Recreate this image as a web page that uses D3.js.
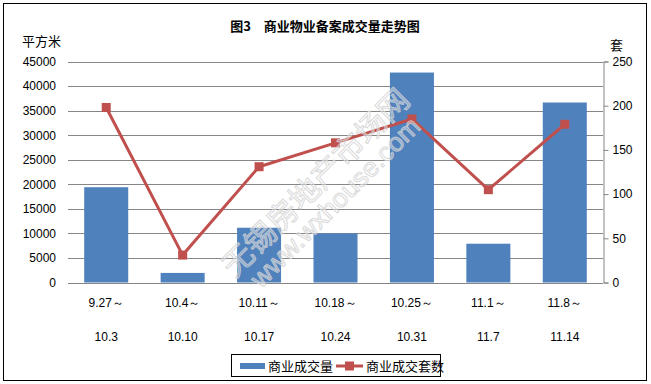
<!DOCTYPE html>
<html><head><meta charset="utf-8">
<script src="https://cdn.jsdelivr.net/npm/d3@7"></script>
<style>body{margin:0;background:#fff}svg{display:block}</style>
</head><body>
<svg id="c" width="651" height="384"></svg>
<script>
const catTop = ["9.27～","10.4～","10.11～","10.18～","10.25～","11.1～","11.8～"];
const catBottom = ["10.3","10.10","10.17","10.24","10.31","11.7","11.14"];
const areaValues = [19400, 1950, 11150, 10000, 42750, 7900, 36650];
const unitValues = [198, 31, 131, 158, 185, 105, 179];
const leftTicks = [0,5000,10000,15000,20000,25000,30000,35000,40000,45000];
const rightTicks = [0,50,100,150,200,250];
const title = "图3　商业物业备案成交量走势图";
const seriesNames = ["商业成交量","商业成交套数"];

const svg = d3.select("#c");
const W=651,H=384;
const font = "'Liberation Sans', Arial, sans-serif";
const cjk = "'Noto Sans CJK SC', sans-serif";
svg.append("rect").attr("x",3.5).attr("y",3.5).attr("width",W-8).attr("height",H-7).attr("fill","#fff").attr("stroke","#000").attr("stroke-width",1);

const x0=68,x1=603,yTop=61.5,yBot=282.5;
const x = d3.scaleBand().domain(d3.range(7)).range([x0,x1]).paddingInner(0.424).paddingOuter(0.212);
const xc = d3.scaleBand().domain(d3.range(7)).range([x0,x1]);
const yL = d3.scaleLinear().domain([0,45000]).range([yBot,yTop]);
const yR = d3.scaleLinear().domain([0,250]).range([yBot,yTop]);

// gridlines
svg.append("g").selectAll("line").data(leftTicks).join("line")
  .attr("x1",x0).attr("x2",x1).attr("y1",d=>Math.round(yL(d))+0.5).attr("y2",d=>Math.round(yL(d))+0.5)
  .attr("stroke","#868686").attr("stroke-width",1);

// left axis labels
const gl = svg.append("g").attr("transform",`translate(${x0},0)`)
  .call(d3.axisLeft(yL).tickValues(leftTicks).tickSize(0).tickPadding(12).tickFormat(d3.format("d")));
gl.select(".domain").remove();
gl.selectAll("text").attr("font-family",font).attr("font-size",12).attr("fill","#000");

// right axis
const gr = svg.append("g").attr("transform",`translate(${x1+0.5},0)`)
  .call(d3.axisRight(yR).tickValues(rightTicks).tickSize(5).tickPadding(4).tickFormat(d3.format("d")));
gr.select(".domain").attr("stroke","#868686");
gr.selectAll(".tick line").attr("stroke","#868686");
gr.selectAll("text").attr("font-family",font).attr("font-size",12).attr("fill","#000");

// bars
svg.append("g").selectAll("rect").data(areaValues).join("rect")
  .attr("x",(d,i)=>x(i)).attr("width",x.bandwidth())
  .attr("y",d=>yL(d)).attr("height",d=>yBot-yL(d)).attr("fill","#4F81BD");

// line
const cx = i=>xc(i)+xc.bandwidth()/2;
svg.append("path").datum(unitValues)
  .attr("d",d3.line().x((d,i)=>cx(i)).y(d=>yR(d)))
  .attr("fill","none").attr("stroke","#C0504D").attr("stroke-width",3).attr("stroke-linejoin","round");
svg.append("g").selectAll("rect").data(unitValues).join("rect")
  .attr("x",(d,i)=>cx(i)-4.5).attr("y",d=>yR(d)-4.5).attr("width",9).attr("height",9).attr("fill","#C0504D");

// watermark (over the plot, faint outlined)
const wm = svg.append("g").attr("transform","translate(326,193) rotate(-45)");
wm.append("text").attr("x",0).attr("y",-4).attr("text-anchor","middle").attr("font-family",cjk).attr("font-size",30)
  .attr("textLength",250).attr("lengthAdjust","spacingAndGlyphs")
  .attr("fill","#ffffff").attr("fill-opacity",0.35).attr("stroke","#d0d0d0").attr("stroke-opacity",0.8).attr("stroke-width",1).text("无锡房地产市场网");
wm.append("text").attr("x",0).attr("y",22).attr("text-anchor","middle").attr("font-family",font).attr("font-size",26)
  .attr("textLength",228).attr("lengthAdjust","spacingAndGlyphs")
  .attr("fill","#ffffff").attr("fill-opacity",0.35).attr("stroke","#d0d0d0").attr("stroke-opacity",0.8).attr("stroke-width",1).text("www.wxhouse.com");

// category labels
const gx = svg.append("g");
gx.selectAll("text.t").data(catTop).join("text").attr("class","t")
  .attr("x",(d,i)=>cx(i)).attr("y",307).attr("text-anchor","middle")
  .attr("font-family",font).attr("font-size",12).text(d=>d);
gx.selectAll("text.b").data(catBottom).join("text").attr("class","b")
  .attr("x",(d,i)=>cx(i)).attr("y",341).attr("text-anchor","middle")
  .attr("font-family",font).attr("font-size",12).text(d=>d);

// title & units
svg.append("text").attr("x",325).attr("y",31).attr("text-anchor","middle")
  .attr("font-family",cjk).attr("font-weight","bold").attr("font-size",13).text(title);
svg.append("text").attr("x",22).attr("y",46).attr("font-family",cjk).attr("font-size",13).text("平方米");
svg.append("text").attr("x",610).attr("y",50).attr("font-family",cjk).attr("font-size",13).text("套");

// legend
const lg = svg.append("g");
lg.append("rect").attr("x",231.5).attr("y",354.5).attr("width",209).attr("height",22).attr("fill","#fff").attr("stroke","#000");
lg.append("line").attr("x1",240).attr("x2",265).attr("y1",366).attr("y2",366).attr("stroke","#4F81BD").attr("stroke-width",6);
lg.append("text").attr("x",268).attr("y",371).attr("font-family",cjk).attr("font-size",13).text(seriesNames[0]);
lg.append("line").attr("x1",336).attr("x2",363).attr("y1",366).attr("y2",366).attr("stroke","#C0504D").attr("stroke-width",3);
lg.append("rect").attr("x",345).attr("y",361.5).attr("width",9).attr("height",9).attr("fill","#C0504D");
lg.append("text").attr("x",366).attr("y",371).attr("font-family",cjk).attr("font-size",13).text(seriesNames[1]);
</script>
</body></html>
